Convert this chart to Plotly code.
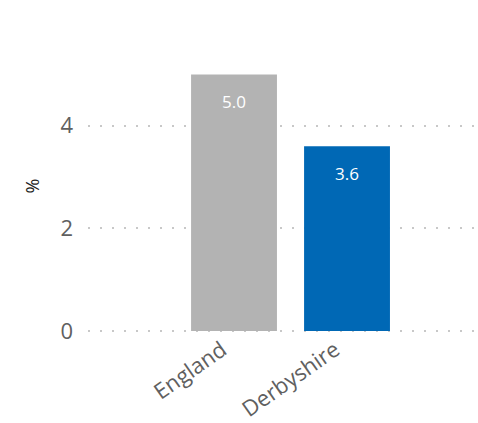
import plotly.graph_objects as go

categories = ["England", "Derbyshire"]
values = [5.0, 3.6]
bar_colors = ["#b3b3b3", "#0068b5"]
y_ticks = [0, 2, 4]

fig = go.Figure()
fig.add_trace(go.Bar(
    x=categories, y=values,
    marker=dict(color=bar_colors, line=dict(width=0)),
    width=0.76,
    hoverinfo="skip",
))

for c, v in zip(categories, values):
    fig.add_annotation(x=c, y=v, text=f"{v:.1f}", showarrow=False,
                       yanchor="top", yshift=-14,
                       font=dict(family="Open Sans", size=17, color="white"))

fig.update_layout(
    width=478, height=423,
    margin=dict(l=88, r=0, t=40, b=89),
    paper_bgcolor="white", plot_bgcolor="white",
    showlegend=False,
    font=dict(family="Open Sans"),
    xaxis=dict(
        range=[-1.292, 2.159], showgrid=False, zeroline=False, showline=False,
        tickangle=-35, ticks="", tickfont=dict(size=22, color="#606060"),
        ticklabelshift=-12,
        fixedrange=True,
    ),
    yaxis=dict(
        range=[-0.02, 5.67], tickvals=y_ticks, ticktext=[str(t) for t in y_ticks],
        showgrid=True, gridcolor="#c8c8c8", gridwidth=2, griddash="2px,10px",
        zeroline=False, showline=False, ticks="",
        tickfont=dict(size=22, color="#606060"), ticklabelstandoff=14,
        title=dict(text="%", font=dict(size=18, color="#222222"), standoff=16),
        fixedrange=True,
    ),
)

fig.write_html(
    "out.html",
    config={"displayModeBar": False},
    post_script=(
        "document.body.style.margin='0';"
        "document.body.style.overflow='hidden';"
        "document.body.style.background='white';"
        "document.documentElement.style.background='white';"
    ),
)
